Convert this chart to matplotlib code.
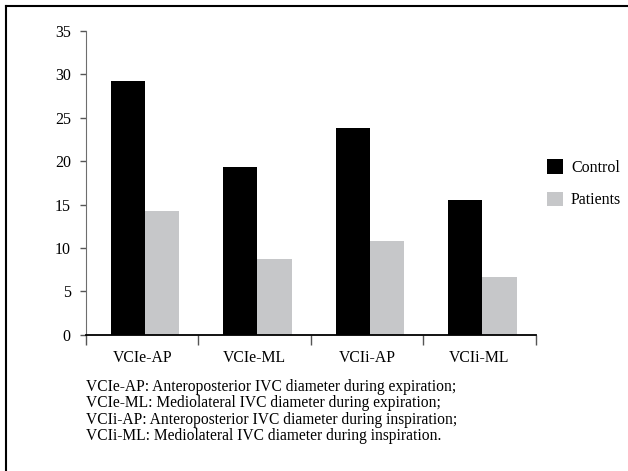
import matplotlib.pyplot as plt
from matplotlib.lines import Line2D
import numpy as np

plt.rcParams['font.family'] = ['Liberation Serif', 'DejaVu Serif']

categories = ["VCIe-AP", "VCIe-ML", "VCIi-AP", "VCIi-ML"]
control = [29.2, 19.3, 23.8, 15.5]
patients = [14.3, 8.7, 10.8, 6.7]
series_names = ["Control", "Patients"]
yticks = [0, 5, 10, 15, 20, 25, 30, 35]
notes = [
    "VCIe-AP: Anteroposterior IVC diameter during expiration;",
    "VCIe-ML: Mediolateral IVC diameter during expiration;",
    "VCIi-AP: Anteroposterior IVC diameter during inspiration;",
    "VCIi-ML: Mediolateral IVC diameter during inspiration.",
]

fig = plt.figure(figsize=(6.28, 4.71), dpi=100)
ax = fig.add_axes([0.137, 0.289, 0.716, 0.645])

x = np.arange(len(categories))
w = 0.305
shift = 0.025
ax.bar(x - w / 2 + shift, control, w, color="black", label=series_names[0])
ax.bar(x + w / 2 + shift, patients, w, color="#c6c7c9", label=series_names[1])

ax.set_xlim(-0.5, len(categories) - 0.5)
ax.set_ylim(0, 35)
ax.set_yticks(yticks)
ax.tick_params(axis='y', labelsize=11.5, length=4, width=1, color="#555555", pad=7)

# category labels centred, tick marks on the boundaries
ax.set_xticks(np.arange(-0.5, len(categories), 1.0))
ax.set_xticklabels([])
ax.set_xticks(x, minor=True)
ax.set_xticklabels(categories, minor=True, fontsize=11.3)
ax.tick_params(axis='x', which='major', length=7, width=1, color="#555555")
ax.tick_params(axis='x', which='minor', length=0, pad=11)

for s in ["top", "right"]:
    ax.spines[s].set_visible(False)
ax.spines["left"].set_color("#6e6e6e")
ax.spines["bottom"].set_color("black")
ax.spines["bottom"].set_linewidth(1.3)

ax.legend(loc="center left", bbox_to_anchor=(1.011, 0.497), frameon=False,
          borderaxespad=0, fontsize=11.5, handlelength=1.0, handleheight=1.0,
          handletextpad=0.5, labelspacing=1.0)

for i, line in enumerate(notes):
    fig.text(0.137, 1 - (387 + 16.3 * i) / 471, line, fontsize=11.2, va="center")

# outer frame lines (top and left)
fig.add_artist(Line2D([6 / 628, 1], [1 - 6 / 471, 1 - 6 / 471], color="black", lw=1.5))
fig.add_artist(Line2D([6 / 628, 6 / 628], [0, 1 - 6 / 471], color="black", lw=1.5))

fig.savefig("out.png", dpi=100)
